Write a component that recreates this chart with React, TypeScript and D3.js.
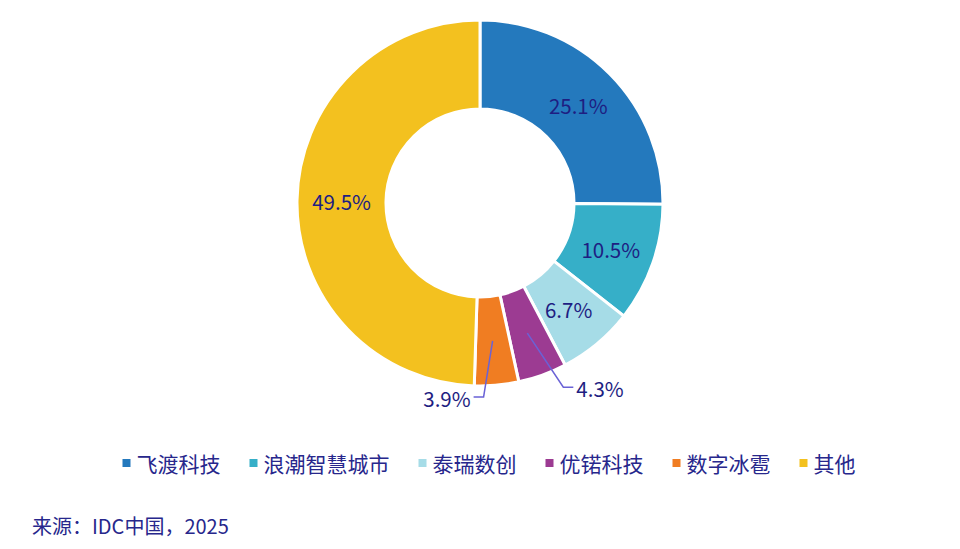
import React, { useEffect, useRef } from 'react';
import * as d3 from 'd3';

// market share data
const companies = ['飞渡科技', '浪潮智慧城市', '泰瑞数创', '优锘科技', '数字冰雹', '其他'];
const shares = [25.1, 10.5, 6.7, 4.3, 3.9, 49.5];
const colors = ['#2479bd', '#36afc8', '#a6dce7', '#9c3b92', '#f07d22', '#f3c11f'];
const sourceNote = '来源：IDC中国，2025';

const WIDTH = 960;
const HEIGHT = 549;
const FONT = '"Noto Sans CJK SC", "Noto Sans", sans-serif';
const TEXT_COLOR = '#1e1e82';

// leader lines for the thin slices: elbow offset from centroid, then horizontal run
const leaders: Record<number, { dx: number; dy: number; run: number }> = {
  3: { dx: 36, dy: 54, run: 10 },
  4: { dx: -9, dy: 56, run: -10 },
};

const App: React.FC = () => {
  const svgRef = useRef<SVGSVGElement>(null);

  useEffect(() => {
    if (!svgRef.current) return;
    const svg = d3.select(svgRef.current);
    svg.selectAll('*').remove();

    const cx = 480;
    const cy = 203;
    const outer = 183;
    const inner = 94;

    const data = companies.map((name, i) => ({ name, value: shares[i], color: colors[i], i }));

    const pie = d3.pie<any>().sort(null).value(d => d.value);
    const arc = d3.arc<any>().innerRadius(inner).outerRadius(outer);
    const arcs = pie(data);

    const g = svg.append('g').attr('transform', `translate(${cx},${cy})`);

    g.selectAll('path.slice')
      .data(arcs)
      .enter()
      .append('path')
      .attr('class', 'slice')
      .attr('d', arc)
      .attr('fill', d => d.data.color)
      .attr('stroke', '#ffffff')
      .attr('stroke-width', 3)
      .attr('stroke-linejoin', 'miter');

    // labels
    arcs.forEach((a, i) => {
      const [x, y] = arc.centroid(a);
      const label = `${a.data.value.toFixed(1)}%`;
      const leader = leaders[i];
      if (!leader) {
        g.append('text')
          .attr('x', x)
          .attr('y', y)
          .attr('text-anchor', 'middle')
          .attr('dominant-baseline', 'central')
          .attr('font-family', FONT)
          .attr('font-size', 20.5)
          .attr('fill', TEXT_COLOR)
          .text(label);
        return;
      }
      const ex = x + leader.dx;
      const ey = y + leader.dy;
      const tx = ex + leader.run;
      g.append('polyline')
        .attr('points', `${x},${y} ${ex},${ey} ${tx},${ey}`)
        .attr('fill', 'none')
        .attr('stroke', '#6a62d6')
        .attr('stroke-width', 1.5);
      g.append('text')
        .attr('x', tx + (leader.run > 0 ? 3 : -3))
        .attr('y', ey + 1)
        .attr('text-anchor', leader.run > 0 ? 'start' : 'end')
        .attr('dominant-baseline', 'central')
        .attr('font-family', FONT)
        .attr('font-size', 20.5)
        .attr('fill', TEXT_COLOR)
        .text(label);
    });

    // legend
    const fontSize = 21;
    const marker = 8;
    const markerGap = 6;
    const itemGap = 29;
    const itemWidths = companies.map(c => marker + markerGap + c.length * fontSize);
    const total = d3.sum(itemWidths) + itemGap * (companies.length - 1);
    let lx = 489 - total / 2;
    const ly = 463;
    const legend = svg.append('g');
    companies.forEach((c, i) => {
      legend.append('rect')
        .attr('x', lx)
        .attr('y', ly - marker / 2)
        .attr('width', marker)
        .attr('height', marker)
        .attr('fill', colors[i]);
      legend.append('text')
        .attr('x', lx + marker + markerGap)
        .attr('y', ly)
        .attr('dominant-baseline', 'central')
        .attr('font-family', FONT)
        .attr('font-size', fontSize)
        .attr('fill', '#27278c')
        .text(c);
      lx += itemWidths[i] + itemGap;
    });

    // source
    svg.append('text')
      .attr('x', 32)
      .attr('y', 525)
      .attr('dominant-baseline', 'central')
      .attr('font-family', FONT)
      .attr('font-size', 20)
      .attr('fill', '#27278c')
      .text(sourceNote);
  }, []);

  return (
    <svg
      ref={svgRef}
      width={WIDTH}
      height={HEIGHT}
      style={{ position: 'absolute', left: 0, top: 0, background: '#ffffff' }}
    />
  );
};

export default App;
